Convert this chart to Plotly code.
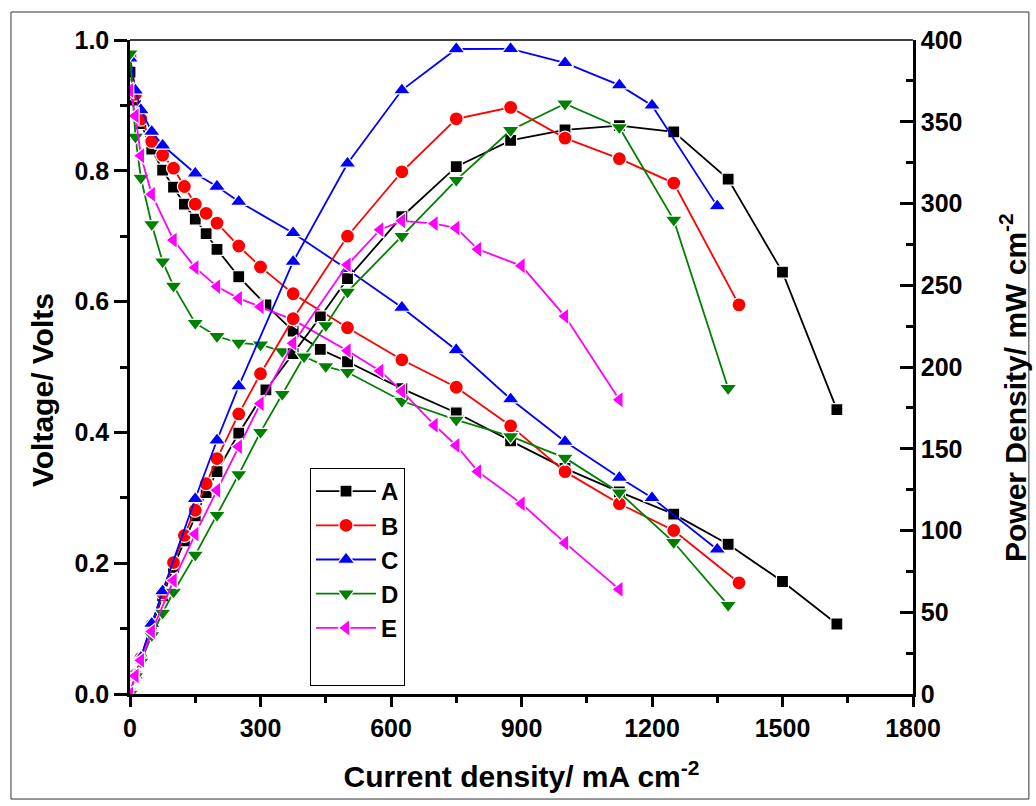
import plotly.graph_objects as go

# ---------------- data ----------------
current_A = [0, 12.5, 25, 50, 75, 100, 125, 150, 175, 200, 250, 312.5, 375, 437.5, 500, 625, 750, 875, 1000, 1125, 1250, 1375, 1500, 1625]
voltage_A = [0.951, 0.908, 0.872, 0.833, 0.801, 0.775, 0.749, 0.726, 0.704, 0.680, 0.638, 0.595, 0.555, 0.527, 0.508, 0.467, 0.430, 0.387, 0.345, 0.309, 0.275, 0.229, 0.172, 0.107]
power_A = [0, 11.4, 21.8, 41.7, 60.1, 77.5, 93.6, 108.9, 123.2, 136.0, 159.5, 186.0, 208.2, 230.6, 254.0, 291.9, 322.5, 338.6, 345.0, 347.6, 343.8, 314.9, 258.0, 173.9]

current_B = [0, 12.5, 25, 50, 75, 100, 125, 150, 175, 200, 250, 300, 375, 500, 625, 750, 875, 1000, 1125, 1250, 1400]
voltage_B = [0.975, 0.917, 0.879, 0.845, 0.824, 0.804, 0.776, 0.749, 0.735, 0.720, 0.685, 0.653, 0.612, 0.560, 0.511, 0.469, 0.410, 0.340, 0.291, 0.250, 0.170]
power_B = [0, 11.5, 22.0, 42.3, 61.8, 80.4, 97.0, 112.4, 128.6, 144.0, 171.3, 195.9, 229.5, 280.0, 319.4, 351.8, 358.8, 340.0, 327.4, 312.5, 238.0]

current_C = [0, 12.5, 25, 50, 75, 150, 200, 250, 375, 500, 625, 750, 875, 1000, 1125, 1200, 1350]
voltage_C = [0.972, 0.923, 0.893, 0.860, 0.839, 0.796, 0.776, 0.753, 0.705, 0.649, 0.591, 0.526, 0.451, 0.386, 0.331, 0.300, 0.221]
power_C = [0, 11.5, 22.3, 43.0, 62.9, 119.4, 155.2, 188.3, 264.4, 324.5, 369.4, 394.5, 394.6, 386.0, 372.4, 360.0, 298.4]

current_D = [0, 12.5, 25, 50, 75, 100, 150, 200, 250, 300, 350, 400, 450, 500, 625, 750, 875, 1000, 1125, 1250, 1375]
voltage_D = [0.979, 0.852, 0.789, 0.718, 0.661, 0.624, 0.567, 0.547, 0.537, 0.534, 0.524, 0.516, 0.501, 0.492, 0.448, 0.419, 0.394, 0.361, 0.308, 0.232, 0.136]
power_D = [0, 10.7, 19.7, 35.9, 49.6, 62.4, 85.1, 109.4, 134.3, 160.2, 183.4, 206.4, 225.5, 246.0, 280.0, 314.3, 344.8, 361.0, 346.5, 290.0, 187.0]

current_E = [0, 12.5, 25, 50, 100, 150, 200, 250, 300, 375, 500, 575, 625, 700, 750, 800, 900, 1000, 1125]
voltage_E = [0.923, 0.884, 0.823, 0.764, 0.694, 0.652, 0.623, 0.605, 0.592, 0.572, 0.525, 0.494, 0.463, 0.411, 0.380, 0.340, 0.291, 0.231, 0.160]
power_E = [0, 11.1, 20.6, 38.2, 69.4, 97.8, 124.6, 151.3, 177.6, 214.5, 262.5, 284.0, 289.4, 287.7, 285.0, 272.0, 261.9, 231.0, 180.0]

series_names = ["A", "B", "C", "D", "E"]
x_ticks = [0, 300, 600, 900, 1200, 1500, 1800]

# ---------------- styling ----------------
styles = {
    "A": dict(color="#000000", symbol="square", size=12),
    "B": dict(color="#FF0000", symbol="circle", size=14),
    "C": dict(color="#0000FF", symbol="triangle-up", size=15),
    "D": dict(color="#008000", symbol="triangle-down", size=15),
    "E": dict(color="#FF00FF", symbol="triangle-left", size=15),
}
data = {
    "A": (current_A, voltage_A, power_A),
    "B": (current_B, voltage_B, power_B),
    "C": (current_C, voltage_C, power_C),
    "D": (current_D, voltage_D, power_D),
    "E": (current_E, voltage_E, power_E),
}

FONT = "Arial, Liberation Sans, sans-serif"

fig = go.Figure()
for name in series_names:
    cur, volt, powr = data[name]
    st = styles[name]
    marker = dict(symbol=st["symbol"], size=st["size"], color=st["color"],
                  line=dict(color="white", width=1.2))
    fig.add_trace(go.Scatter(x=cur, y=volt, mode="lines+markers", name=name,
                             line=dict(color=st["color"], width=1.8),
                             marker=marker, yaxis="y", legendgroup=name))
    fig.add_trace(go.Scatter(x=cur, y=powr, mode="lines+markers", name=name,
                             line=dict(color=st["color"], width=1.8),
                             marker=marker, yaxis="y2", showlegend=False,
                             legendgroup=name))

# blank legend row (the reference legend box has empty space below "E")
fig.add_trace(go.Scatter(x=[None], y=[None], mode="lines", name=" ",
                         line=dict(color="rgba(0,0,0,0)", width=1),
                         hoverinfo="skip", legendgroup="blank"))

tickfont = dict(family=FONT, size=25, color="black", weight="bold")
titlefont = dict(family=FONT, size=30, color="black", weight="bold")
ytitlefont = dict(family=FONT, size=30, color="black", weight="bold")

fig.update_layout(
    width=1036, height=806,
    margin=dict(l=130, r=123, t=40, b=112),
    paper_bgcolor="white", plot_bgcolor="white",
    template="none",
    showlegend=True,
    legend=dict(x=0.2299, y=0.3456, xanchor="left", yanchor="top",
                bordercolor="black", borderwidth=1, bgcolor="white",
                font=dict(family=FONT, size=24, color="black", weight="bold"),
                itemwidth=60, tracegroupgap=0),
    xaxis=dict(range=[0, 1800], tickvals=x_ticks, ticks="outside", ticklen=10,
               tickwidth=2.5, tickcolor="black", showline=True, linewidth=2.5,
               linecolor="black", showgrid=False, zeroline=False,
               tickfont=tickfont,
               minor=dict(dtick=150, ticks="outside", ticklen=6, tickwidth=2.5,
                          tickcolor="black", showgrid=False),
               title=dict(text="Current density/ mA cm<sup>-2</sup>", font=titlefont,
                          standoff=26),
               automargin=False),
    yaxis=dict(range=[0, 1.0], dtick=0.2, tick0=0, tickformat=".1f", ticks="outside",
               ticklen=13, tickwidth=2.5, tickcolor="black", showline=True,
               linewidth=2.5, linecolor="black", showgrid=False, zeroline=False,
               tickfont=tickfont,
               minor=dict(dtick=0.1, ticks="outside", ticklen=7, tickwidth=2.5,
                          tickcolor="black", showgrid=False),
               automargin=False),
    yaxis2=dict(range=[0, 400], dtick=50, tick0=0, overlaying="y", side="right",
                ticks="inside", ticklen=13, tickwidth=2.5, tickcolor="black",
                showline=True, linewidth=2.5, linecolor="black", showgrid=False,
                zeroline=False, tickfont=tickfont,
                minor=dict(dtick=25, ticks="inside", ticklen=7, tickwidth=2.5,
                           tickcolor="black", showgrid=False),
                automargin=False),
    annotations=[
        dict(text="Voltage/ Volts", xref="paper", yref="paper",
             x=(42 - 130) / 783, y=(694 - 390) / 654, textangle=-90,
             xanchor="center", yanchor="middle", showarrow=False, font=ytitlefont),
        dict(text="Power Density/ mW cm<sup>-2</sup>", xref="paper", yref="paper",
             x=(1013 - 130) / 783, y=(694 - 387) / 654, textangle=-90,
             xanchor="center", yanchor="middle", showarrow=False, font=ytitlefont),
    ],
    shapes=[
        dict(type="line", xref="paper", yref="paper", x0=0, x1=1, y0=1, y1=1,
             line=dict(color="black", width=1.5)),
        dict(type="rect", xref="paper", yref="paper", x0=-0.152, x1=1.148,
             y0=-0.1606, y1=1.0428, line=dict(color="#333333", width=1)),
    ],
)

fig.write_html("out.html")
